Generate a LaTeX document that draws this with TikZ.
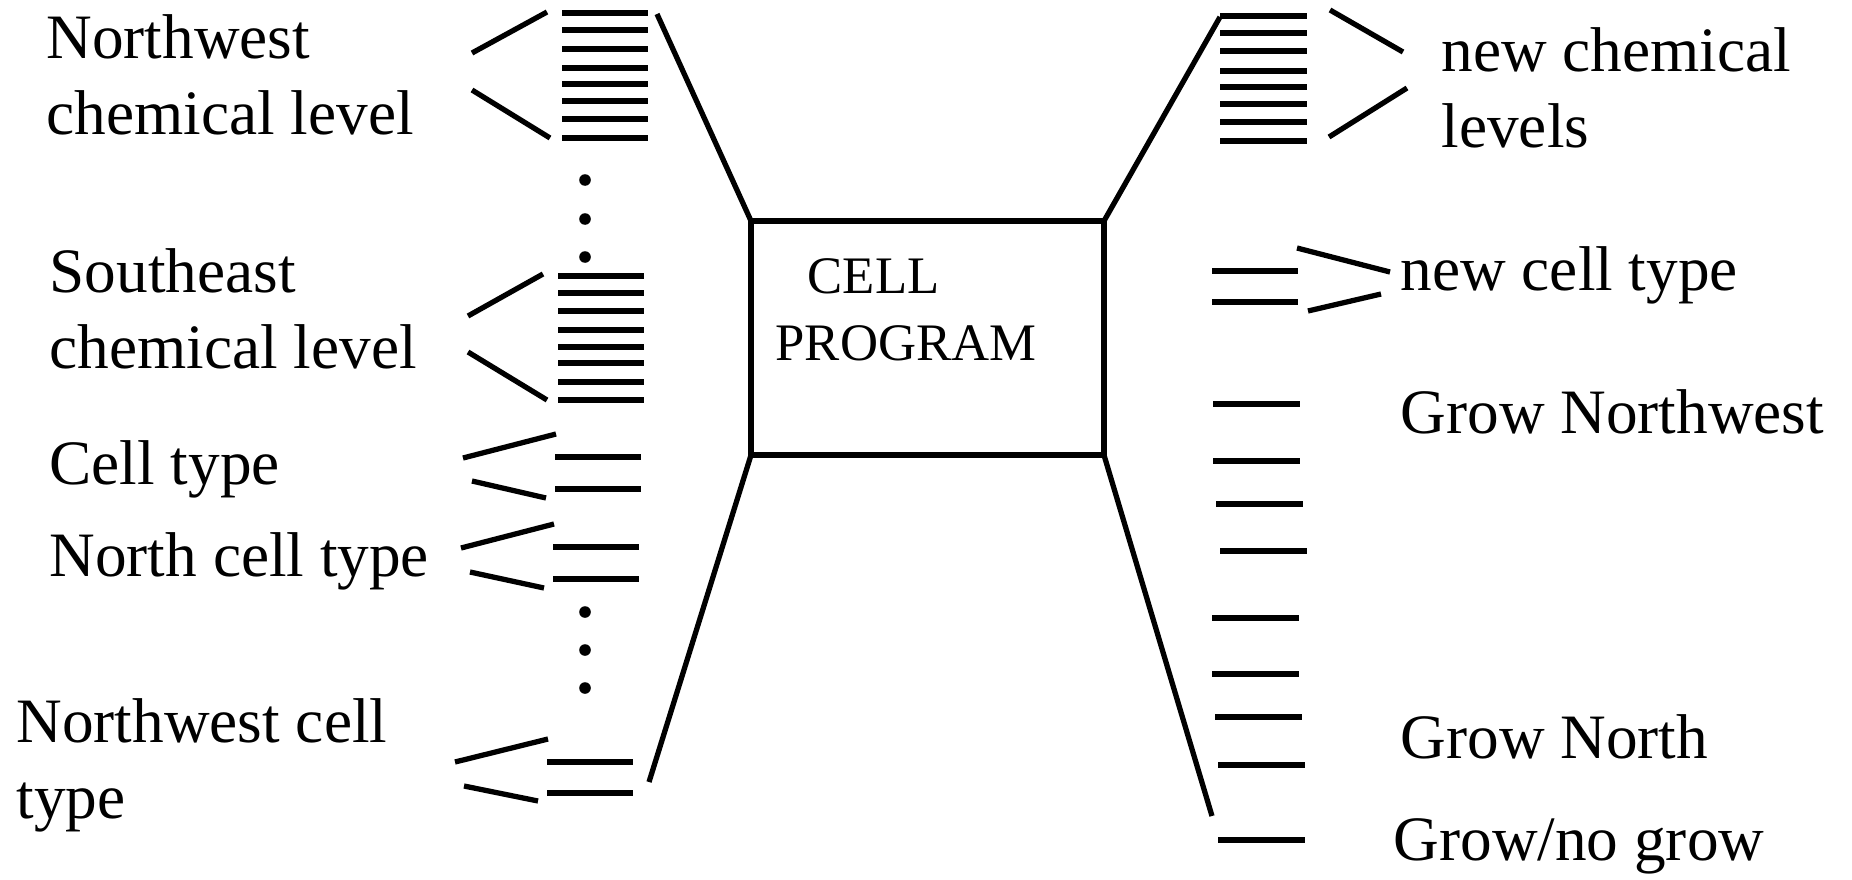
\documentclass[tikz,border=0pt]{standalone}
\usepackage{fontspec}
\setmainfont{Liberation Serif}
\begin{document}
\begin{tikzpicture}[x=0.02cm, y=-0.02cm, line width=3pt,
    lbl/.style={anchor=base west, inner sep=0pt, align=left,
        font=\fontsize{36}{43.2}\selectfont},
    boxlbl/.style={anchor=base west, inner sep=0pt,
        font=\fontsize{30}{36}\selectfont}]

            \useasboundingbox (0,0) rectangle (1852,879);

            % Programmkasten in der Mitte
            \node[draw, minimum width=7.06cm, minimum height=4.68cm,
                inner sep=0pt, outer sep=0pt] (prog) at (927.5,338) {};
            \node[boxlbl] (celltxt) at (805,293) {CELL};
            \node[boxlbl] (progtxt) at (773,360) {PROGRAM};

            % Beschriftungen links (Basislinie der letzten Zeile)
            \node[lbl] (nwchem) at (44,134) {Northwest\\chemical level};
            \node[lbl] (sechem) at (47,368) {Southeast\\chemical level};
            \node[lbl] (ctype) at (47,484) {Cell type};
            \node[lbl] (nctype) at (47,576) {North cell type};
            \node[lbl] (nwctype) at (14,818) {Northwest cell\\type};

            % Beschriftungen rechts
            \node[lbl] (newchem) at (1439,147) {new chemical\\levels};
            \node[lbl] (newtype) at (1398,290) {new cell type};
            \node[lbl] (grownw) at (1398,433) {Grow Northwest};
            \node[lbl] (grown) at (1398,758) {Grow North};
            \node[lbl] (grow) at (1391,860) {Grow/no grow};

            % Eingangsleitungen links (je 8 fuer die Chemikalien)
            \foreach \y in {13,30,49,68,84,101,119,138}
                \draw (562,\y) -- (648,\y);
            \foreach \y in {276,293,311,330,347,363,382,400}
                \draw (558,\y) -- (644,\y);
            % je 2 fuer die Zelltypen
            \foreach \y in {457,489} \draw (555,\y) -- (641,\y);
            \foreach \y in {547,579} \draw (553,\y) -- (639,\y);
            \foreach \y in {762,793} \draw (547,\y) -- (633,\y);

            % Klammern links
            \draw (472,53) -- (547,12);
            \draw (472,90) -- (550,138);
            \draw (468,316) -- (543,274);
            \draw (468,352) -- (547,400);
            \draw (463,458) -- (556,434);
            \draw (472,481) -- (546,498);
            \draw (461,548) -- (554,524);
            \draw (470,572) -- (544,588);
            \draw (455,762) -- (548,739);
            \draw (464,786) -- (538,801);

            % Punkte
            \foreach \y in {180,219,257,612,650,688}
                \fill (585,\y) circle (3.3pt);

            % Ausgangsleitungen rechts
            \foreach \y in {16,33,51,71,87,104,122,141}
                \draw (1220,\y) -- (1307,\y);
            \foreach \y in {271,302} \draw (1212,\y) -- (1298,\y);
            \foreach \y/\x in {404/1213,461/1213,504/1216,551/1220,618/1212,
                    674/1212,717/1215,765/1218,840/1218}
                \draw (\x,\y) -- ({\x+87},\y);

            % Klammern rechts
            \draw (1330,10) -- (1403,52);
            \draw (1329,137) -- (1407,88);
            \draw (1297,248) -- (1390,272);
            \draw (1308,311) -- (1381,294);

            % Verbindungen zum Kasten
            \coordinate (lt) at (657,14);
            \coordinate (lb) at (649,782);
            \coordinate (rt) at (1220,17);
            \coordinate (rb) at (1212,816);
            \draw (prog.north west) -- (lt);
            \draw (prog.south west) -- (lb);
            \draw (prog.north east) -- (rt);
            \draw (prog.south east) -- (rb);

        \end{tikzpicture}
\end{document}
